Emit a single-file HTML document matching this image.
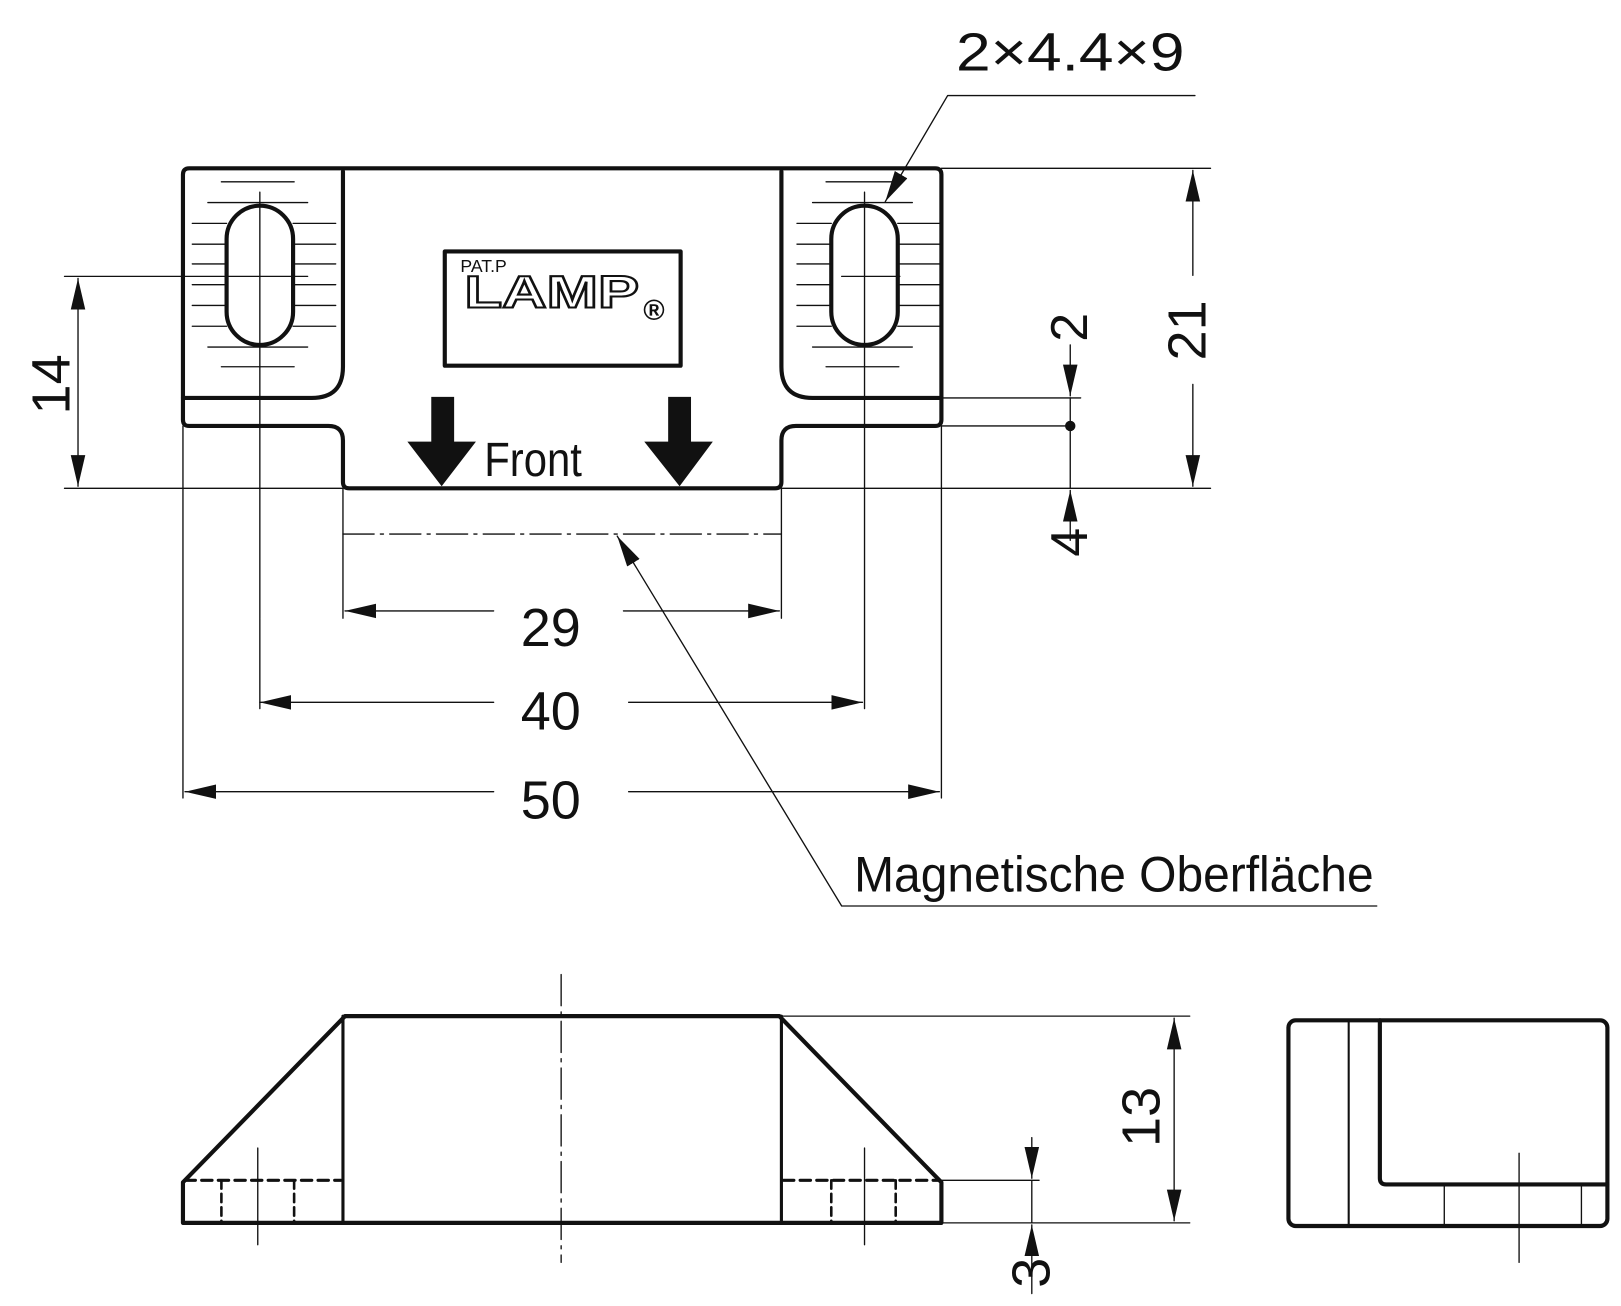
<!DOCTYPE html>
<html><head><meta charset="utf-8"><style>html,body{margin:0;padding:0;background:#fff}svg{display:block}</style></head><body>
<svg width="1621" height="1306" viewBox="0 0 1560 1257" xmlns="http://www.w3.org/2000/svg" font-family="Liberation Sans, sans-serif">
<defs>
<marker id="a" markerUnits="userSpaceOnUse" markerWidth="32" markerHeight="16" refX="30" refY="7" orient="auto-start-reverse" viewBox="0 0 32 14"><path d="M0,0 L30,7 L0,14 Z" fill="#111"/></marker>
</defs>
<g fill="none" stroke="#111" stroke-linecap="round" stroke-linejoin="round">
<path d="M182,162 H900 Q906,162 906,168 V404 Q906,410 900,410 H766 Q752,410 752,424 V464 Q752,470 746,470 H336 Q330,470 330,464 V424 Q330,410 316,410 H182 Q176,410 176,404 V168 Q176,162 182,162 Z" stroke-width="4"/>
<path d="M176,383 H300 Q330,383 330,353 V165" stroke-width="4"/>
<path d="M906,383 H782 Q752,383 752,353 V165" stroke-width="4"/>
<rect x="218" y="198" width="64" height="134" rx="32" stroke-width="4"/>
<rect x="800" y="198" width="64" height="134" rx="32" stroke-width="4"/>
<rect x="428" y="242" width="227" height="110" stroke-width="4"/>
<g stroke-width="1.3">
<path d="M213,175H283M200,195H296M185,215H218M282,215H323M185,235H218M282,235H323M185,254H218M282,254H323M185,274H218M282,274H323M185,294H218M282,294H323M185,314H218M282,314H323M200,334H296M213,353H283"/>
<path d="M795,175H865M782,195H878M767,215H800M864,215H905M767,235H800M864,235H905M767,254H800M864,254H905M767,274H800M864,274H905M767,294H800M864,294H905M767,314H800M864,314H905M782,334H878M795,353H865"/>
<path d="M62,266H296M810,266H866M250,185V682M832,185V682M176,410V768M906,410V768M330,470V595M752,470V595"/>
<path d="M62,470H330M752,470H1165M906,162H1165M906,383H1040M906,410H1030"/>
<path d="M330,514H752" stroke-dasharray="30,6,3,6"/>
<path d="M75,268V468" marker-start="url(#a)" marker-end="url(#a)"/>
<path d="M1148,164V265" marker-start="url(#a)"/><path d="M1148,370V468" marker-end="url(#a)"/>
<path d="M1030,332V381" marker-end="url(#a)"/><path d="M1030,383V470"/><path d="M1030,520V472" marker-end="url(#a)"/>
<path d="M332,588H475" marker-start="url(#a)"/><path d="M600,588H750" marker-end="url(#a)"/>
<path d="M250,676H475" marker-start="url(#a)"/><path d="M605,676H830" marker-end="url(#a)"/>
<path d="M178,762H475" marker-start="url(#a)"/><path d="M605,762H904" marker-end="url(#a)"/>
<path d="M1325,872H810L594,516" marker-end="url(#a)"/>
<path d="M1150,92H912L852,194" marker-end="url(#a)"/>
</g>
<circle cx="1030" cy="410" r="5" fill="#111" stroke="none"/>
<path d="M415,382H437V425H458L425,468L392,425H415Z M643,382H665V425H686L654,468L620,425H643Z" fill="#111" stroke="none"/>
<path d="M332,978H750L906,1138V1177H176V1138Z" stroke-width="4"/>
<path d="M330,978V1177M752,978V1177" stroke-width="3"/>
<g stroke-width="3" stroke-dasharray="10,6"><path d="M178,1136H328M754,1136H904"/></g>
<g stroke-width="2.5" stroke-dasharray="8,5"><path d="M213,1136V1177M283,1136V1177M800,1136V1177M862,1136V1177"/></g>
<g stroke-width="1.3">
<path d="M248,1105V1198M832,1105V1198"/>
<path d="M540,938V1215" stroke-dasharray="30,6,3,6"/>
<path d="M752,978H1145M906,1177H1145M906,1136H1000"/>
<path d="M1130,980V1175" marker-start="url(#a)" marker-end="url(#a)"/>
<path d="M993,1095V1134" marker-end="url(#a)"/><path d="M993,1136V1177"/><path d="M993,1245V1179" marker-end="url(#a)"/>
<path d="M1462,1110V1215"/>
<path d="M1390,1140V1180M1522,1140V1180"/>
</g>
<rect x="1240" y="982" width="307" height="198" rx="7" stroke-width="4"/>
<path d="M1298,982V1180" stroke-width="2"/>
<path d="M1328,982V1134Q1328,1140 1334,1140H1547" stroke-width="4"/>
</g>
<g fill="#111" font-family="Liberation Sans, sans-serif">
<text x="443" y="262" font-size="17">PAT.P</text>
<text x="447" y="296" font-size="44" font-weight="bold" fill="#fff" stroke="#111" stroke-width="2" textLength="168" lengthAdjust="spacingAndGlyphs">LAMP</text>
<text x="619" y="308" font-size="28" font-weight="bold">®</text>
<text x="466" y="458" font-size="46" textLength="94" lengthAdjust="spacingAndGlyphs">Front</text>
<text x="920" y="68" font-size="52" textLength="220" lengthAdjust="spacingAndGlyphs">2×4.4×9</text>
<text x="530" y="622" font-size="52" text-anchor="middle">29</text>
<text x="530" y="702" font-size="52" text-anchor="middle">40</text>
<text x="530" y="788" font-size="52" text-anchor="middle">50</text>
<text x="822" y="858" font-size="48" textLength="500" lengthAdjust="spacingAndGlyphs">Magnetische Oberfläche</text>
<text transform="translate(67,370) rotate(-90)" font-size="52" text-anchor="middle">14</text>
<text transform="translate(1160,318) rotate(-90)" font-size="52" text-anchor="middle">21</text>
<text transform="translate(1046,315) rotate(-90)" font-size="50" text-anchor="middle">2</text>
<text transform="translate(1046,522) rotate(-90)" font-size="50" text-anchor="middle">4</text>
<text transform="translate(1116,1075) rotate(-90)" font-size="52" text-anchor="middle">13</text>
<text transform="translate(1010,1225) rotate(-90)" font-size="52" text-anchor="middle">3</text>
</g>
</svg>
</body></html>
